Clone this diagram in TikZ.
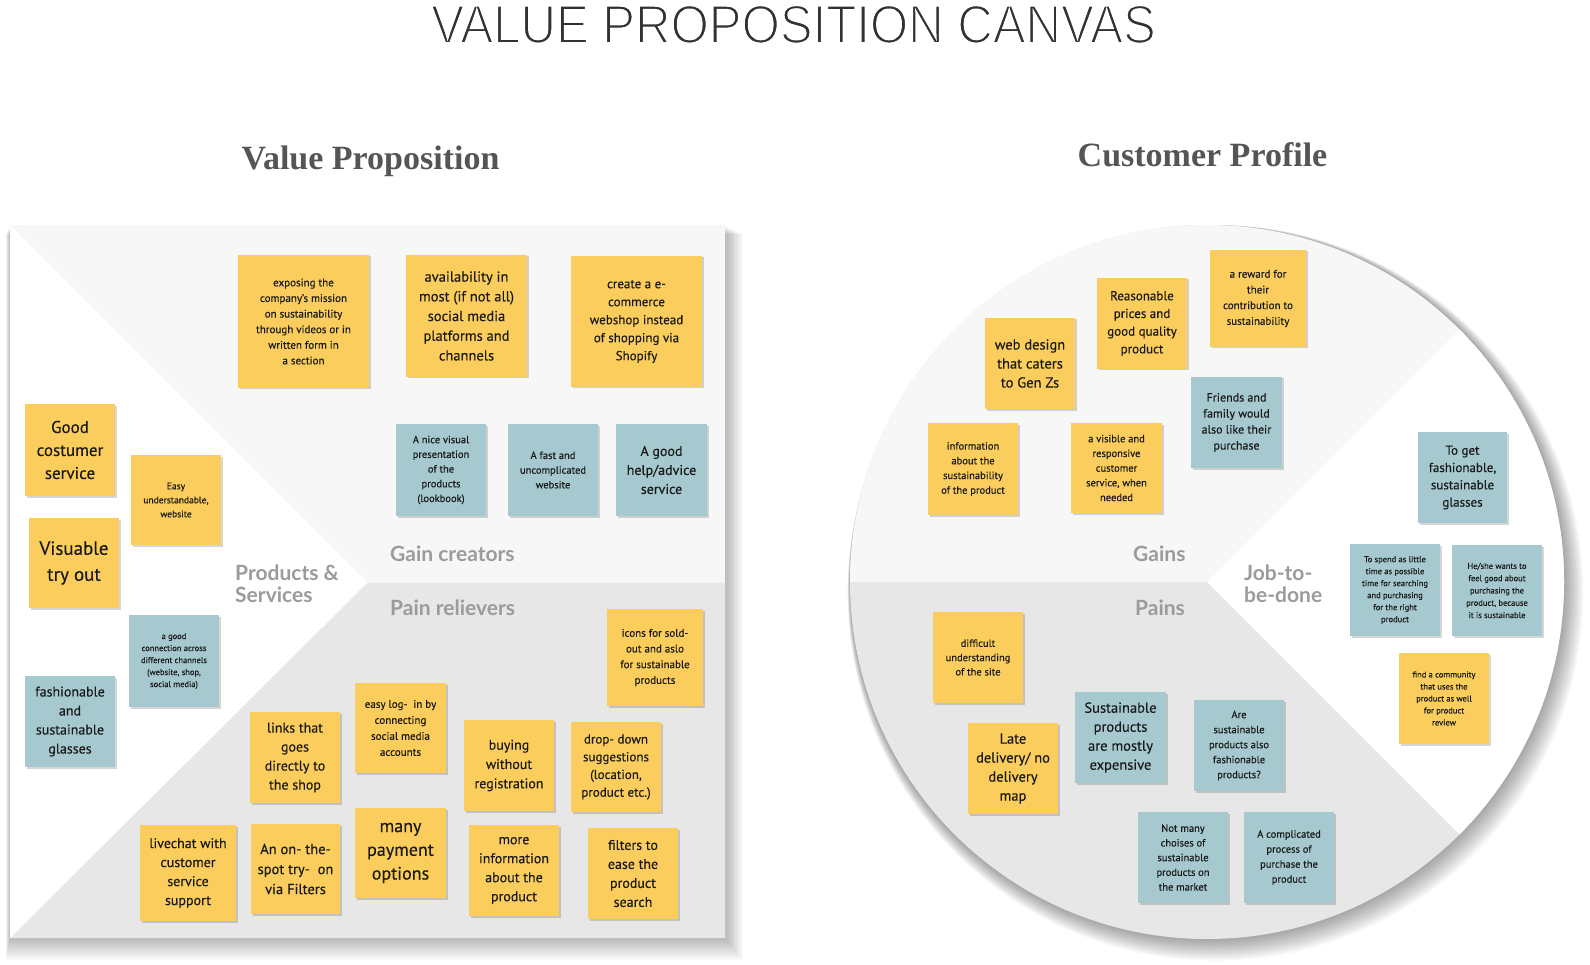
\documentclass[tikz,border=0pt]{standalone}
\usepackage{fontspec}
\setmainfont{PT Sans}[FakeBold=0.25]
\newfontfamily\labelfont{Lato}
\newfontfamily\titlefont{Liberation Sans}
\newfontfamily\headfont{Liberation Serif}
\usetikzlibrary{shadows}
\definecolor{noteyellow}{RGB}{251,205,93}
\definecolor{noteteal}{RGB}{165,201,206}
\definecolor{gainfill}{RGB}{247,247,247}
\definecolor{painfill}{RGB}{232,231,232}
\definecolor{labelgray}{RGB}{155,155,155}
\definecolor{headgray}{RGB}{85,85,85}
\definecolor{titlegray}{RGB}{50,50,50}
\definecolor{notetext}{RGB}{25,25,25}
\newcommand\nfs[2]{\fontsize{#1}{#2}\selectfont}
\newcommand\thintext[1]{\special{pdf:literal direct 1 1 1 RG 1.8 w 2 Tr}#1\special{pdf:literal direct 0 Tr}}
\begin{document}
\begin{tikzpicture}[x=1pt,y=-1pt,
  note/.style={inner sep=0pt, align=center, text=notetext, minimum width=90pt, minimum height=91pt,
    drop shadow={shadow xshift=1.5pt, shadow yshift=-1.5pt, opacity=0.16, fill=black}},
  ynote/.style={note, fill=noteyellow},
  tnote/.style={note, fill=noteteal},
  seclabel/.style={anchor=base west, inner sep=0pt, text=labelgray, font=\labelfont\bfseries\nfs{21}{22}},
  headtxt/.style={anchor=base, inner sep=0pt, text=headgray, font=\headfont\bfseries\nfs{34}{34}},
]
\useasboundingbox (0,0) rectangle (1590,965);
\fill[white] (0,0) rectangle (1590,965);

% ---------- shadows ----------
\foreach \i in {1,...,14} {
  \fill[black, opacity=0.02] (10-\i*0.3, 226+\i*0.6) rectangle (725+\i*1.3, 938+\i*1.6);
}
\foreach \i in {1,...,12} {
  \fill[black, opacity=0.03] (1207+\i*0.7, 582+\i*0.9) circle (357+\i*0.9);
}

% ---------- value proposition square ----------
\fill[gainfill] (10,225) rectangle (725,938);
\fill[painfill] (10,938) -- (367.5,582.5) -- (725,582.5) -- (725,938) -- cycle;
\fill[white] (10,225) -- (367.5,582.5) -- (10,938) -- cycle;

% ---------- customer profile circle ----------
\begin{scope}
  \clip (1207,582) circle (357);
  \fill[painfill] (840,200) rectangle (1600,970);
  \fill[gainfill] (840,200) rectangle (1600,582);
  \fill[white] (1207,582) -- (1617,172) -- (1617,992) -- cycle;
\end{scope}

% ---------- titles ----------
\node[anchor=base, inner sep=0pt, text=titlegray, font=\titlefont\nfs{54}{54}, xscale=0.91] (title) at (793.5,43) {\thintext{VALUE PROPOSITION CANVAS}};
\node[headtxt] (vphead) at (370.5,170) {Value Proposition};
\node[headtxt] (cphead) at (1202.5,167) {Customer Profile};

% ---------- section labels ----------
\node[seclabel] (lgain) at (390,561.5) {Gain creators};
\node[seclabel] (lpain) at (390,615.5) {Pain relievers};
\node[seclabel] (lprodA) at (235,580) {Products \&};
\node[seclabel] (lprodB) at (235,602) {Services};
\node[seclabel] (lgains) at (1133,561.5) {Gains};
\node[seclabel] (lpains) at (1135,615.5) {Pains};
\node[seclabel] (ljobA) at (1244,580) {Job-to-};
\node[seclabel] (ljobB) at (1244,602) {be-done};

% ---------- gain creators ----------
\node[ynote, minimum width=131pt, minimum height=133pt, font=\nfs{11}{15.6}] (g1) at (303.5,321.5)
  {exposing the\\company's mission\\on sustainability\\through videos or in\\written form in\\a section};
\node[ynote, minimum width=121pt, minimum height=122pt, font=\nfs{14.5}{19.7}] (g2) at (466.5,316)
  {availability in\\most (if not all)\\social media\\platforms and\\channels};
\node[ynote, minimum width=131pt, minimum height=131pt, font=\nfs{13}{18}] (g3) at (636.5,321.5)
  {create a e-\\commerce\\webshop instead\\of shopping via\\Shopify};
\node[tnote, minimum height=92pt, font=\nfs{10.5}{14.7}] (g4) at (441,470)
  {A nice visual\\presentation\\of the\\products\\(lookbook)};
\node[tnote, minimum height=92pt, font=\nfs{10.5}{14.7}] (g5) at (553,470)
  {A fast and\\uncomplicated\\website};
\node[tnote, minimum width=91pt, minimum height=92pt, font=\nfs{14}{19}] (g6) at (661.5,470)
  {A good\\help/advice\\service};

% ---------- products & services ----------
\node[ynote, minimum height=92pt, font=\nfs{17}{23}] (p1) at (70,450)
  {Good\\costumer\\service};
\node[ynote, minimum height=90pt, font=\nfs{9.5}{14}] (p2) at (176,500)
  {Easy\\understandable,\\website};
\node[ynote, minimum height=90pt, font=\nfs{19}{26}] (p3) at (74,563)
  {Visuable\\try out};
\node[tnote, minimum height=92pt, font=\nfs{8.5}{12}] (p4) at (174,661)
  {a good\\connection across\\different channels\\(website, shop,\\social media)};
\node[tnote, minimum height=91pt, font=\nfs{14}{19}] (p5) at (70,721.5)
  {fashionable\\and\\sustainable\\glasses};

% ---------- pain relievers ----------
\node[ynote, minimum height=91pt, font=\nfs{14}{19}] (r1) at (295,757.5)
  {links that\\goes\\directly to\\the shop};
\node[ynote, minimum width=96pt, minimum height=96pt, font=\nfs{14}{19}] (r2) at (188,873)
  {livechat with\\customer\\service\\support};
\node[ynote, minimum width=89pt, minimum height=90pt, font=\nfs{14.5}{20}] (r3) at (295.5,869)
  {An on- the-\\spot try-\ \ on\\via Filters};
\node[ynote, minimum width=96pt, minimum height=97pt, font=\nfs{11}{15.7}] (r4) at (655,657.5)
  {icons for sold-\\out and aslo\\for sustainable\\products};
\node[ynote, minimum width=91pt, minimum height=90pt, font=\nfs{11}{16}] (r5) at (400.5,728)
  {easy log-\ \ in by\\connecting\\social media\\accounts};
\node[ynote, minimum height=91pt, font=\nfs{14}{19.3}] (r6) at (509,765.5)
  {buying\\without\\registration};
\node[ynote, minimum height=90pt, font=\nfs{13}{17.7}] (r7) at (616,767)
  {drop- down\\suggestions\\(location,\\product etc.)};
\node[ynote, minimum width=91pt, minimum height=90pt, font=\nfs{18}{23.7}] (r8) at (400.5,853)
  {many\\payment\\options};
\node[ynote, minimum height=91pt, font=\nfs{14}{19}] (r9) at (514,870.5)
  {more\\information\\about the\\product};
\node[ynote, minimum height=91pt, font=\nfs{14}{19}] (r10) at (633,873.5)
  {filters to\\ease the\\product\\search};

% ---------- gains ----------
\node[ynote, minimum height=91pt, font=\nfs{14.5}{19}] (c1) at (1030,363.5)
  {web design\\that caters\\to Gen Zs};
\node[ynote, minimum height=91pt, font=\nfs{13}{17.7}] (c2) at (1142,323.5)
  {Reasonable\\prices and\\good quality\\product};
\node[ynote, minimum width=96pt, minimum height=97pt, font=\nfs{11}{15.7}] (c3) at (1258,298.5)
  {a reward for\\their\\contribution to\\sustainability};
\node[tnote, minimum width=91pt, minimum height=91pt, font=\nfs{12}{16}] (c4) at (1236.5,422.5)
  {Friends and\\family would\\also like their\\purchase};
\node[ynote, minimum height=92pt, font=\nfs{10.5}{14.7}] (c5) at (973,469)
  {information\\about the\\sustainability\\of the product};
\node[ynote, minimum width=91pt, minimum height=90pt, font=\nfs{10.5}{14.7}] (c6) at (1116.5,468)
  {a visible and\\responsive\\customer\\service, when\\needed};

% ---------- job to be done ----------
\node[tnote, minimum width=89pt, minimum height=91pt, font=\nfs{13}{17.3}] (j1) at (1462.5,477.5)
  {To get\\fashionable,\\sustainable\\glasses};
\node[tnote, minimum height=92pt, font=\nfs{8.5}{12}] (j2) at (1395,590)
  {To spend as little\\time as possible\\time for searching\\and purchasing\\for the right\\product};
\node[tnote, minimum height=91pt, font=\nfs{8.5}{12.3}] (j3) at (1497,590.5)
  {He/she wants to\\feel good about\\purchasing the\\product, because\\it is sustainable};
\node[ynote, minimum height=91pt, font=\nfs{8.5}{12}] (j4) at (1444,698.5)
  {find a community\\that uses the\\product as well\\for product\\review};

% ---------- pains ----------
\node[ynote, minimum height=91pt, font=\nfs{10.5}{14.3}] (q1) at (978,657.5)
  {difficult\\understanding\\of the site};
\node[ynote, minimum height=91pt, font=\nfs{14.5}{19}] (q2) at (1013,768.5)
  {Late\\delivery/ no\\delivery\\map};
\node[tnote, minimum width=91pt, minimum height=91pt, font=\nfs{14.5}{19}] (q3) at (1120.5,737.5)
  {Sustainable\\products\\are mostly\\expensive};
\node[tnote, minimum height=91pt, font=\nfs{10.5}{15}] (q4) at (1239,745.5)
  {Are\\sustainable\\products also\\fashionable\\products?};
\node[tnote, minimum height=91pt, font=\nfs{10.5}{14.7}] (q5) at (1183,857.5)
  {Not many\\choises of\\sustainable\\products on\\the market};
\node[tnote, minimum height=91pt, font=\nfs{10.5}{15}] (q6) at (1289,857.5)
  {A complicated\\process of\\purchase the\\product};
\end{tikzpicture}
\end{document}
